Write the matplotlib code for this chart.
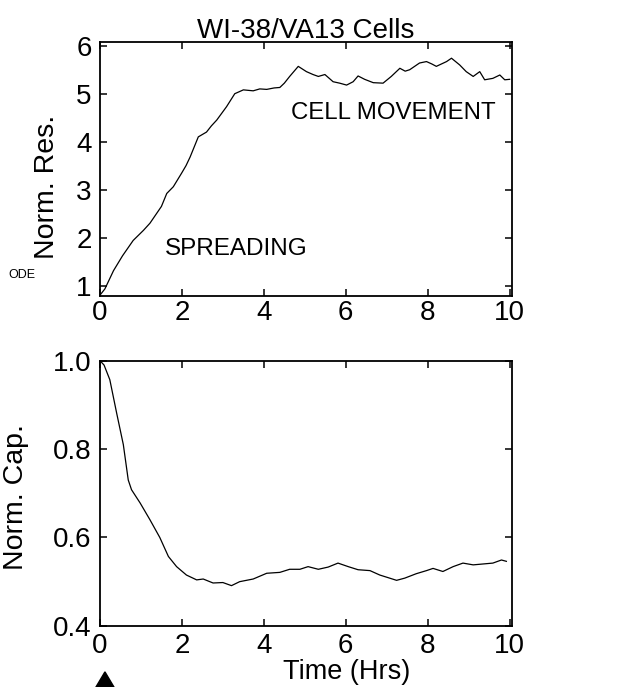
"""two-panel time course: normalised resistance and capacitance"""
import matplotlib.pyplot as plt
from matplotlib.patches import Polygon

plt.rcParams['font.family'] = ['Liberation Sans', 'DejaVu Sans']

# normalised resistance (top panel)
t_res = [0.0, 0.12, 0.33, 0.55, 0.81, 1.06, 1.22, 1.38, 1.5, 1.63, 1.79, 1.99, 2.1, 2.2, 2.4,
         2.6, 2.72, 2.85, 3.09, 3.29, 3.5, 3.74, 3.9, 4.07, 4.25, 4.39, 4.5, 4.63, 4.84,
         5.04, 5.2, 5.33, 5.49, 5.69, 5.85, 6.02, 6.18, 6.3, 6.46, 6.67, 6.91, 7.11,
         7.32, 7.45, 7.56, 7.8, 7.97, 8.1, 8.21, 8.46, 8.58, 8.78, 8.94, 9.11, 9.27,
         9.39, 9.59, 9.76, 9.88, 10.0]
norm_res = [0.8, 0.93, 1.31, 1.62, 1.94, 2.15, 2.3, 2.5, 2.65, 2.92, 3.06, 3.34, 3.5, 3.68, 4.1,
            4.2, 4.33, 4.45, 4.73, 5.0, 5.08, 5.06, 5.1, 5.09, 5.12, 5.13, 5.22, 5.36, 5.57,
            5.46, 5.4, 5.36, 5.4, 5.25, 5.22, 5.18, 5.25, 5.37, 5.3, 5.23, 5.22, 5.36,
            5.53, 5.47, 5.5, 5.64, 5.67, 5.62, 5.57, 5.67, 5.74, 5.6, 5.46, 5.36, 5.46,
            5.29, 5.32, 5.39, 5.29, 5.3]

# normalised capacitance (bottom panel)
t_cap = [0.0, 0.1, 0.24, 0.41, 0.57, 0.69, 0.77, 0.98, 1.22, 1.46, 1.67, 1.87, 2.11, 2.36,
         2.52, 2.76, 3.0, 3.21, 3.41, 3.74, 4.07, 4.39, 4.63, 4.88, 5.08, 5.33, 5.57,
         5.81, 6.06, 6.3, 6.59, 6.83, 7.07, 7.24, 7.44, 7.72, 7.97, 8.13, 8.37, 8.62,
         8.86, 9.11, 9.35, 9.59, 9.8, 9.92]
norm_cap = [1.0, 0.99, 0.957, 0.88, 0.81, 0.73, 0.708, 0.678, 0.64, 0.6, 0.557, 0.534, 0.515,
            0.504, 0.506, 0.497, 0.498, 0.491, 0.5, 0.506, 0.519, 0.521, 0.528, 0.528,
            0.534, 0.528, 0.533, 0.542, 0.534, 0.527, 0.525, 0.515, 0.508, 0.503, 0.508,
            0.518, 0.525, 0.53, 0.523, 0.534, 0.542, 0.538, 0.54, 0.542, 0.549, 0.546]

fig = plt.figure(figsize=(6.21, 6.87), dpi=100)
ax1 = fig.add_axes([0.161, 0.569, 0.663, 0.370])
ax2 = fig.add_axes([0.161, 0.089, 0.663, 0.386])

for ax in (ax1, ax2):
    for s in ax.spines.values():
        s.set_linewidth(1.3)
    ax.tick_params(direction='in', length=5, width=1.1, top=True, right=True,
                   labelsize=20)
    ax.set_xlim(0, 10.05)
    ax.set_xticks([0, 2, 4, 6, 8, 10])

ax1.plot(t_res, norm_res, color='black', linewidth=0.9)
ax1.set_ylim(0.78, 6.08)
ax1.set_yticks([1, 2, 3, 4, 5, 6])
ax1.tick_params(axis='x', pad=3)
ax1.tick_params(axis='y', pad=6)
ax1.set_ylabel('Norm. Res.', fontsize=20.5)
ax1.yaxis.set_label_coords(-0.097, 0.43)
ax1.set_title('WI-38/VA13 Cells', fontsize=20, pad=3)
ax1.text(4.67, 4.6, 'CELL MOVEMENT', fontsize=17.3, va='center', ha='left')
ax1.text(1.58, 1.77, 'SPREADING', fontsize=17.5, va='center', ha='left')

ax2.plot(t_cap, norm_cap, color='black', linewidth=0.9)
ax2.set_ylim(0.4, 1.0)
ax2.set_yticks([0.4, 0.6, 0.8, 1.0])
ax2.set_yticklabels(['0.4', '0.6', '0.8', '1.0'])
ax2.tick_params(axis='x', pad=5)
ax2.tick_params(axis='y', pad=6)
ax2.set_ylabel('Norm. Cap.', fontsize=20.5)
ax2.yaxis.set_label_coords(-0.172, 0.487)
ax2.set_xlabel('Time (Hrs)', fontsize=19.5)
ax2.xaxis.set_label_coords(0.6, -0.124)

fig.text(0.013, 0.6, 'ODE', fontsize=9, va='center')
fig.patches.append(Polygon([[0.148, -0.01], [0.169, 0.022], [0.19, -0.01]], closed=True,
                           transform=fig.transFigure, facecolor='black', edgecolor='black'))

fig.savefig('out.png', dpi=100)
